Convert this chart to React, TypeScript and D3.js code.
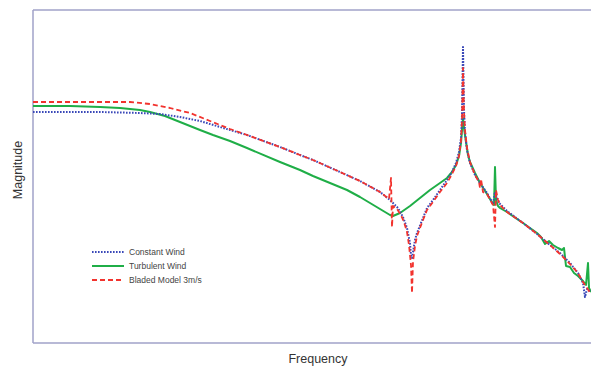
import React from "react";
import * as d3 from "d3";

// frequency bin, magnitude (arbitrary units)
const constantWind: [number, number][] = [
  [0, 231], [27, 231], [67, 231], [107, 230], [127, 229], [147, 226], [167, 222], [187, 216],
  [214, 208], [247, 196], [267, 188], [280, 183], [307, 171], [327, 162], [347, 151], [357, 143],
  [365, 135], [370, 126], [374, 115], [377, 100], [378, 88], [379, 85], [380, 91], [382, 103],
  [384, 110], [390, 125], [394, 135], [400, 143], [407, 153], [414, 163], [419, 171], [423, 180],
  [426, 191], [428, 205], [429, 228], [430, 296], [431, 233], [432, 211], [434, 193], [437, 180],
  [442, 168], [447, 160], [454, 150], [460, 139], [462, 151], [464, 145], [467, 139], [474, 132],
  [490, 120], [504, 109], [517, 98], [527, 90], [537, 80], [545, 70], [550, 60], [552, 46],
  [554, 54], [558, 51],
];

const turbulentWind: [number, number][] = [
  [0, 237], [37, 237], [67, 236], [87, 235], [107, 233], [117, 231], [132, 227], [147, 221],
  [167, 213], [180, 208], [197, 202], [214, 195], [247, 181], [267, 173], [280, 167], [314, 153],
  [327, 146], [347, 134], [357, 128], [360, 127], [367, 130], [377, 137], [387, 145], [397, 153],
  [407, 160], [414, 165], [419, 171], [423, 178], [426, 187], [428, 200], [429, 213], [430, 225],
  [431, 215], [433, 201], [435, 188], [437, 181], [442, 170], [447, 160], [454, 149], [460, 139],
  [461, 138], [462, 176], [463, 143], [465, 137], [467, 135], [474, 131], [490, 120], [504, 110],
  [508, 106], [512, 99], [516, 102], [520, 98], [525, 95], [529, 93], [531, 95], [533, 77],
  [537, 76], [541, 70], [545, 67], [550, 62], [553, 58], [555, 80], [556, 55], [558, 51],
];

const bladedModel: [number, number][] = [
  [0, 241], [47, 241], [97, 241], [117, 239], [137, 235], [157, 230], [177, 222], [197, 214],
  [214, 208], [247, 196], [267, 188], [280, 183], [307, 171], [327, 162], [347, 151], [356, 144],
  [358, 165], [359, 116], [360, 137], [364, 134], [368, 128], [371, 121], [374, 111], [376, 98],
  [378, 78], [379, 50], [380, 81], [382, 97], [384, 107], [390, 123], [394, 133], [400, 141],
  [407, 151], [414, 160], [419, 169], [423, 177], [426, 187], [428, 202], [429, 223], [430, 275],
  [431, 231], [432, 213], [434, 195], [437, 181], [442, 168], [446, 161], [447, 155], [448, 164],
  [450, 151], [454, 149], [460, 138], [462, 116], [463, 153], [465, 143], [467, 138], [474, 131],
  [490, 120], [504, 109], [517, 98], [527, 89], [537, 79], [545, 70], [550, 61], [554, 55],
  [558, 49],
];

const seriesNames = ["Constant Wind", "Turbulent Wind", "Bladed Model 3m/s"];
const xDomain: [number, number] = [0, 558];
const yDomain: [number, number] = [0, 333];

const W = 591;
const H = 367;
const M = { left: 33, top: 10, right: 591, bottom: 343 };

const BLUE = "#3a48b8";
const GREEN = "#1fae47";
const RED = "#f2332e";
const FRAME = "#a0a2c8";

export default function App() {
  const x = d3.scaleLinear().domain(xDomain).range([M.left, M.right]);
  const y = d3.scaleLinear().domain(yDomain).range([M.bottom, M.top]);
  const line = d3
    .line<[number, number]>()
    .x((d) => x(d[0]))
    .y((d) => y(d[1]));

  const styles = [
    { data: constantWind, color: BLUE, dash: "1.6 1.4", width: 2 },
    { data: turbulentWind, color: GREEN, dash: undefined, width: 2 },
    { data: bladedModel, color: RED, dash: "5 3", width: 1.8 },
  ];
  const drawOrder = [1, 0, 2];

  return (
    <svg
      width={W}
      height={H}
      style={{ position: "absolute", left: 0, top: 0, background: "#fff" }}
      fontFamily="Liberation Sans, Arial, sans-serif"
    >
      <rect x={0} y={0} width={W} height={H} fill="#fff" />
      {/* frame */}
      <line x1={M.left} y1={M.top} x2={W} y2={M.top} stroke={FRAME} strokeWidth={1.5} />
      <line x1={M.left} y1={M.top} x2={M.left} y2={M.bottom} stroke={FRAME} strokeWidth={1.5} />
      <line x1={M.left} y1={M.bottom} x2={W} y2={M.bottom} stroke={FRAME} strokeWidth={1.5} />

      {drawOrder.map((i) => (
        <path
          key={i}
          d={line(styles[i].data) || ""}
          fill="none"
          stroke={styles[i].color}
          strokeWidth={styles[i].width}
          strokeDasharray={styles[i].dash}
          strokeLinejoin="round"
        />
      ))}

      {/* legend */}
      {seriesNames.map((name, i) => (
        <g key={name} transform={`translate(92, ${252 + i * 14})`}>
          <line
            x1={0}
            x2={32}
            y1={0}
            y2={0}
            stroke={styles[i].color}
            strokeWidth={styles[i].width}
            strokeDasharray={styles[i].dash}
          />
          <text x={37} y={3} fontSize={8.5} fill="#444">
            {name}
          </text>
        </g>
      ))}

      {/* axis titles */}
      <text x={318} y={363} fontSize={12.5} fill="#333" textAnchor="middle">
        Frequency
      </text>
      <text
        transform="translate(22, 170) rotate(-90)"
        fontSize={12.5}
        fill="#333"
        textAnchor="middle"
      >
        Magnitude
      </text>
    </svg>
  );
}
